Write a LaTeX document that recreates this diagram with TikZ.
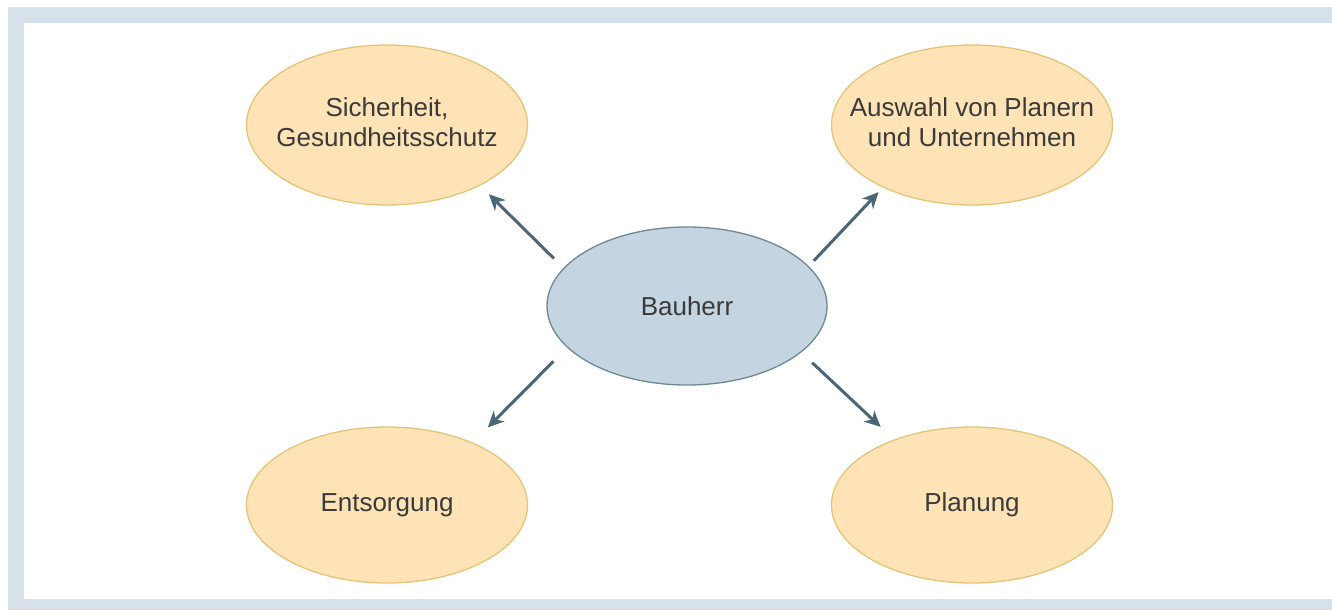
\documentclass[tikz,border=0pt]{standalone}
\usepackage{fontspec}
\setmainfont{Liberation Sans}
\usetikzlibrary{shapes.geometric,arrows.meta}
\definecolor{framec}{HTML}{D6E1E9}
\definecolor{orfill}{HTML}{FDE3B6}
\definecolor{ordraw}{HTML}{E6C477}
\definecolor{cfill}{HTML}{C4D4E0}
\definecolor{cdraw}{HTML}{6F8796}
\definecolor{arrc}{HTML}{4B6677}
\definecolor{txtc}{HTML}{3A3A3A}
\newcommand{\twolines}[2]{\makebox[0pt]{\begin{tabular}{@{}c@{}}#1\\#2\end{tabular}}}
\tikzset{
  bubble/.style={ellipse, inner sep=0pt, outer sep=0pt, minimum width=281pt, minimum height=160pt,
    text=txtc, font=\fontsize{26}{30}\selectfont, line width=1.3pt},
  task/.style={bubble, fill=orfill, draw=ordraw},
  core/.style={bubble, fill=cfill, draw=cdraw, minimum width=280pt, minimum height=158pt},
  conn/.style={draw=arrc, line width=3pt, -{Stealth[length=16pt,width=15pt,inset=5pt]}}
}
\begin{document}
\begin{tikzpicture}[x=1pt,y=-1pt]
\useasboundingbox (0,0) rectangle (1332,610);
\fill[white] (0,0) rectangle (1332,610);
\fill[framec] (8,7) rectangle (1332,610);
\fill[white] (24,23) rectangle (1332,599);
\node[task] (tl) at (387,125) {\twolines{Sicherheit,}{Gesundheitsschutz}};
\node[task] (tr) at (972,125) {\twolines{Auswahl von Planern}{und Unternehmen}};
\node[task, minimum height=156pt] (bl) at (387,505) {Entsorgung};
\node[task, minimum height=156pt] (br) at (972,505) {Planung};
\node[core] (c) at (687,306) {Bauherr};
\draw[conn, shorten <=14pt, shorten >=13pt] (c.163.8) -- (tl.-33.5);
\draw[conn, shorten <=8pt, shorten >=7pt] (c.18.55) -- (tr.215.9);
\draw[conn, shorten <=20pt, shorten >=22pt] (c.199.2) -- (bl.36.1);
\draw[conn, shorten <=15.6pt, shorten >=19pt] (c.338.6) -- (br.140.6);
\end{tikzpicture}
\end{document}
